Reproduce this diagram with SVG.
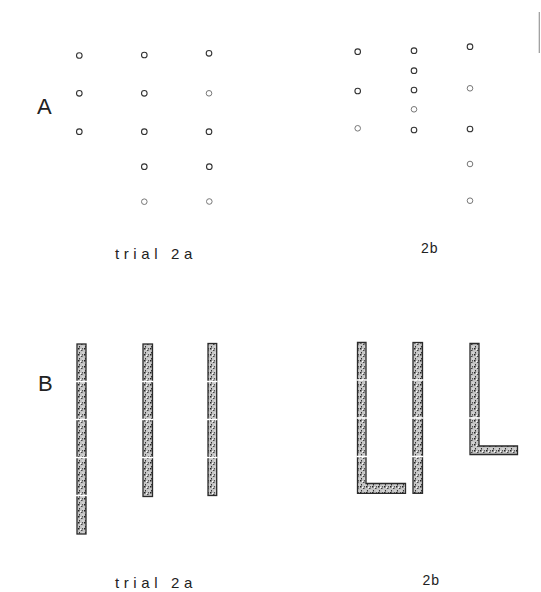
<svg xmlns="http://www.w3.org/2000/svg" width="541" height="592" viewBox="0 0 541 592">
<style>
.dot{fill:none;stroke:#333;stroke-width:1.1}
.dl{fill:none;stroke:#777;stroke-width:1}
.seg{fill:url(#speck);stroke:#2a2a2a;stroke-width:1.3}
.brk{stroke:#fff;stroke-width:1.3}
.lbl{font-family:"Liberation Sans",Arial,sans-serif;fill:#222}
.big{font-size:22px}
.sm{font-size:15px;letter-spacing:4.6px}
</style>
<defs>
<pattern id="speck" width="6" height="6" patternUnits="userSpaceOnUse">
<rect width="6" height="6" fill="#c4c4c4"/>
<rect x="0" y="0" width="1.5" height="1.5" fill="#222"/>
<rect x="3" y="2" width="1.5" height="1" fill="#444"/>
<rect x="1" y="4" width="1" height="1.5" fill="#333"/>
<rect x="4.5" y="4.5" width="1" height="1" fill="#fff"/>
<rect x="2" y="1" width="1" height="1" fill="#fff"/>
<rect x="4" y="0" width="1" height="1.5" fill="#555"/>
</pattern>
</defs>
<rect width="541" height="592" fill="#fff"/>
<line x1="539.3" y1="12" x2="539.3" y2="53" stroke="#999" stroke-width="1.2"/>

<g id="labelA"><text class="lbl big" x="37" y="114">A</text></g>
<g id="labelB"><text class="lbl big" x="38" y="391">B</text></g>

<g id="A-2a">
<circle class="dot" cx="79.3" cy="55.5" r="2.8"/>
<circle class="dot" cx="79.3" cy="93.3" r="2.8"/>
<circle class="dot" cx="79.3" cy="131.7" r="2.8"/>
<circle class="dot" cx="144.3" cy="55" r="2.8"/>
<circle class="dot" cx="144.3" cy="93.3" r="2.8"/>
<circle class="dot" cx="144.3" cy="131.7" r="2.8"/>
<circle class="dot" cx="144.3" cy="166.7" r="2.8"/>
<circle class="dl" cx="144.3" cy="201.7" r="2.8"/>
<circle class="dot" cx="209" cy="53.3" r="2.8"/>
<circle class="dl" cx="209" cy="93.3" r="2.8"/>
<circle class="dot" cx="209" cy="131.7" r="2.8"/>
<circle class="dot" cx="209.3" cy="166.7" r="2.8"/>
<circle class="dl" cx="209.3" cy="201.5" r="2.8"/>
<text class="lbl sm" x="115" y="259">trial 2a</text>
</g>

<g id="A-2b">
<circle class="dot" cx="357.7" cy="51.7" r="2.8"/>
<circle class="dot" cx="357.7" cy="91" r="2.8"/>
<circle class="dl" cx="357.7" cy="128.3" r="2.8"/>
<circle class="dot" cx="414" cy="50.7" r="2.8"/>
<circle class="dot" cx="414" cy="70.7" r="2.8"/>
<circle class="dot" cx="414" cy="90" r="2.8"/>
<circle class="dl" cx="414" cy="109.3" r="2.8"/>
<circle class="dot" cx="414" cy="130" r="2.8"/>
<circle class="dot" cx="470" cy="46.7" r="2.8"/>
<circle class="dl" cx="470" cy="88.3" r="2.8"/>
<circle class="dot" cx="470" cy="129" r="2.8"/>
<circle class="dl" cx="470" cy="164" r="2.8"/>
<circle class="dl" cx="470" cy="200.7" r="2.8"/>
<text class="lbl" style="font-size:14px;letter-spacing:1px" x="421" y="252.5">2b</text>
</g>

<g id="B-2a">
<rect class="seg" x="77" y="344" width="9" height="190"/>
<rect class="seg" x="143" y="344" width="9.5" height="152.5"/>
<rect class="seg" x="208" y="343.5" width="8.7" height="152"/>
<path class="brk" d="M76 381.5H87M76 419.5H87M76 457.5H87M76 495.5H87M142 381.5H153.5M142 419.5H153.5M142 457.5H153.5M207 381.5H217.5M207 419.5H217.5M207 457.5H217.5"/>
<text class="lbl sm" x="115" y="588">trial 2a</text>
</g>

<g id="B-2b">
<path class="seg" d="M357.5 342.5H366V483.5H405.5V493.3H357.5Z"/>
<rect class="seg" x="413" y="342.5" width="9.5" height="150.8"/>
<path class="seg" d="M470 343.5H479V446H517.5V454.5H470Z"/>
<path class="brk" d="M356.5 380H367M356.5 418H367M356.5 456.5H367M412 380H423.5M412 418H423.5M412 456.5H423.5M469 418H480"/>
<text class="lbl" style="font-size:14px;letter-spacing:1px" x="422.5" y="585">2b</text>
</g>
</svg>
